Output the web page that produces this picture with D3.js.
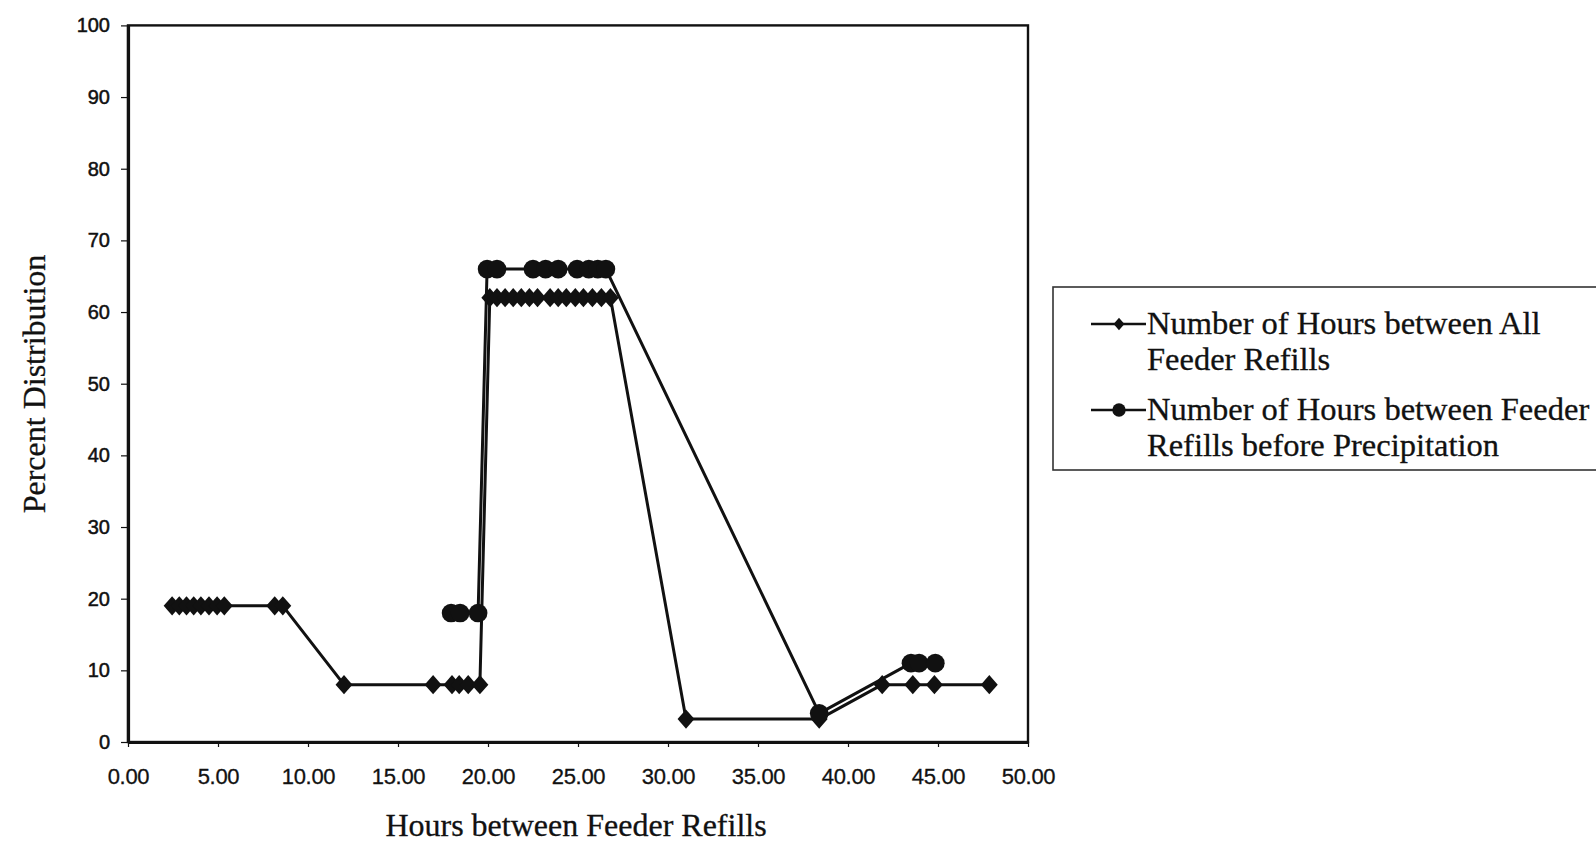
<!DOCTYPE html>
<html>
<head>
<meta charset="utf-8">
<script src="https://cdn.jsdelivr.net/npm/d3@7"></script>
<style>
  html, body { margin: 0; padding: 0; background: #fff; }
  svg { display: block; }
</style>
</head>
<body>
<svg id="chart" width="1596" height="845"></svg>
<script>
// ---- Data ----
const seriesNames = [
  ["Number of Hours between All", "Feeder Refills"],
  ["Number of Hours between Feeder", "Refills before Precipitation"]
];
const allRefillHours = [2.45, 2.85, 3.25, 3.65, 4.05, 4.5, 4.95, 5.35, 8.15, 8.6,
  12.0, 16.95, 18.0, 18.4, 18.9, 19.55,
  20.1, 20.5, 20.95, 21.4, 21.85, 22.3, 22.75, 23.45, 23.9, 24.35, 24.85, 25.3, 25.8, 26.3, 26.8,
  31.0, 38.4, 41.9, 43.6, 44.8, 47.85];
const allRefillPct = [19, 19, 19, 19, 19, 19, 19, 19, 19, 19,
  8, 8, 8, 8, 8, 8,
  62, 62, 62, 62, 62, 62, 62, 62, 62, 62, 62, 62, 62, 62, 62,
  3.2, 3.2, 8, 8, 8, 8];
const precipRefillHours = [17.95, 18.45, 19.45, 19.95, 20.5, 22.5, 23.2, 23.9, 24.95, 25.6, 26.1, 26.55,
  38.4, 43.5, 43.95, 44.85];
const precipRefillPct = [18, 18, 18, 66, 66, 66, 66, 66, 66, 66, 66, 66,
  4, 11, 11, 11];
const xTicks = [0, 5, 10, 15, 20, 25, 30, 35, 40, 45, 50];
const yTicks = [0, 10, 20, 30, 40, 50, 60, 70, 80, 90, 100];
const xTitle = "Hours between Feeder Refills";
const yTitle = "Percent Distribution";

(function () {
// ---- Layout ----
const svg = d3.select("#chart");
const pLeft = 128, pRight = 1028, pTop = 25.4, pBottom = 742;
const x = d3.scaleLinear().domain([0, 50]).range([pLeft, pRight]);
const y = d3.scaleLinear().domain([0, 100]).range([pBottom, pTop]);
const ink = "#111";

// diamond symbol (square rotated, slightly tall)
const diamond = {
  draw(ctx, size) {
    const h = Math.sqrt(size) * 0.62, w = h * 0.88;
    ctx.moveTo(0, -h); ctx.lineTo(w, 0); ctx.lineTo(0, h); ctx.lineTo(-w, 0); ctx.closePath();
  }
};

// frame
svg.append("rect")
  .attr("x", pLeft).attr("y", pTop)
  .attr("width", pRight - pLeft).attr("height", pBottom - pTop)
  .attr("fill", "none").attr("stroke", ink).attr("stroke-width", 2.4);

// axes
const xAxis = d3.axisBottom(x).tickValues(xTicks).tickFormat(d3.format(".2f")).tickSize(5).tickSizeOuter(0);
const yAxis = d3.axisLeft(y).tickValues(yTicks).tickFormat(d3.format("d")).tickSize(7).tickSizeOuter(0);

const gx = svg.append("g").attr("transform", `translate(0,${pBottom})`).call(xAxis);
gx.select(".domain").attr("stroke", ink).attr("stroke-width", 3.2);
gx.selectAll(".tick line").attr("stroke", ink).attr("stroke-width", 1.2);
gx.selectAll(".tick text")
  .attr("fill", ink)
  .attr("stroke", ink).attr("stroke-width", 0.3)
  .attr("font-family", "'Liberation Sans', Arial, sans-serif")
  .attr("font-size", 22)
  .attr("letter-spacing", "-0.3px")
  .attr("dy", 0)
  .attr("y", 42);

const gy = svg.append("g").attr("transform", `translate(${pLeft},0)`).call(yAxis);
gy.select(".domain").attr("stroke", ink).attr("stroke-width", 3.2);
gy.selectAll(".tick line").attr("stroke", ink).attr("stroke-width", 1.2);
gy.selectAll(".tick text")
  .attr("fill", ink)
  .attr("stroke", ink).attr("stroke-width", 0.5)
  .attr("font-family", "'Liberation Sans', Arial, sans-serif")
  .attr("font-size", 20)
  .attr("x", -18);

// axis titles
svg.append("text")
  .attr("x", 576).attr("y", 836)
  .attr("text-anchor", "middle")
  .attr("font-family", "'Liberation Serif', 'Times New Roman', serif")
  .attr("font-size", 32).attr("fill", ink)
  .attr("stroke", ink).attr("stroke-width", 0.3)
  .text(xTitle);

svg.append("text")
  .attr("transform", "translate(45,384) rotate(-90)")
  .attr("text-anchor", "middle")
  .attr("font-family", "'Liberation Serif', 'Times New Roman', serif")
  .attr("font-size", 32).attr("fill", ink)
  .attr("stroke", ink).attr("stroke-width", 0.3)
  .text(yTitle);

// series
const series = [
  { xs: allRefillHours, ys: allRefillPct, sym: diamond, size: 240 },
  { xs: precipRefillHours, ys: precipRefillPct, sym: d3.symbolCircle, size: 275 }
];
const line = d3.line().x(d => x(d[0])).y(d => y(d[1]));

series.forEach(s => {
  const pts = s.xs.map((v, i) => [v, s.ys[i]]);
  svg.append("path")
    .datum(pts)
    .attr("d", line)
    .attr("fill", "none")
    .attr("stroke", ink)
    .attr("stroke-width", 3)
    .attr("stroke-linejoin", "round");
  svg.append("g").selectAll("path")
    .data(pts)
    .join("path")
    .attr("transform", d => `translate(${x(d[0])},${y(d[1])})`)
    .attr("d", d3.symbol().type(s.sym).size(s.size))
    .attr("fill", ink);
});

// legend
const lg = svg.append("g");
lg.append("rect")
  .attr("x", 1053).attr("y", 287)
  .attr("width", 600).attr("height", 183)
  .attr("fill", "none").attr("stroke", "#333").attr("stroke-width", 1.6);

const legendRows = [
  { y1: 324, sym: diamond, size: 100 },
  { y1: 410, sym: d3.symbolCircle, size: 140 }
];
legendRows.forEach((r, i) => {
  lg.append("line")
    .attr("x1", 1091).attr("x2", 1146)
    .attr("y1", r.y1).attr("y2", r.y1)
    .attr("stroke", ink).attr("stroke-width", 2.6);
  lg.append("path")
    .attr("transform", `translate(1119,${r.y1})`)
    .attr("d", d3.symbol().type(r.sym).size(r.size))
    .attr("fill", ink);
  seriesNames[i].forEach((t, j) => {
    lg.append("text")
      .attr("x", 1147).attr("y", r.y1 + 10 + j * 36)
      .attr("font-family", "'Liberation Serif', 'Times New Roman', serif")
      .attr("font-size", 32.5).attr("fill", ink)
      .attr("stroke", ink).attr("stroke-width", 0.3)
      .text(t);
  });
});
})();
</script>
</body>
</html>
